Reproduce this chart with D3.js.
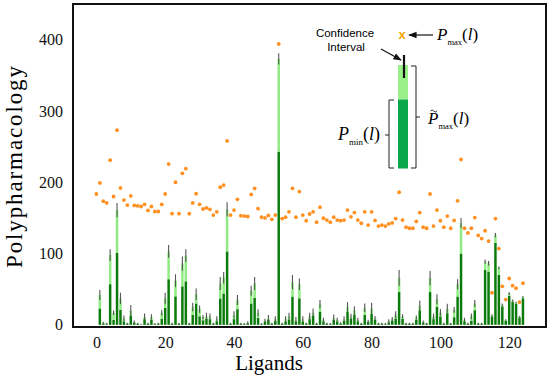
<!DOCTYPE html>
<html>
<head>
<meta charset="utf-8">
<script src="https://cdnjs.cloudflare.com/ajax/libs/d3/7.8.5/d3.min.js"></script>
<style>
  body { margin: 0; background: #fff; }
  .tick text { font-family: "Liberation Serif", serif; font-size: 16px; fill: #111; }
</style>
</head>
<body>
<script>
// values per ligand
var pMin = [0, 23, 2, 1, 57, 7, 101, 21, 5, 1.5, 12.6, 3, 1.5, 0.5, 8, 1.5, 7, 1, 1.5, 8.5,
  24, 64, 1.5, 40, 1.5, 54, 61, 1.5, 14, 30, 12, 6.5, 8.5, 8, 1.5, 4.7, 37, 44, 103, 1.5,
  8, 22, 1.5, 1, 2.3, 30, 38, 10, 1, 4.7, 7, 1.5, 5.6, 243, 1.5, 4.7, 7.5, 39.7, 4.7, 37.3,
  4.7, 1.5, 8, 13, 1.5, 18.7, 4.7, 1.5, 1, 7, 4.7, 2, 5.6, 18, 8.5, 14, 4.7, 1.5, 14, 4,
  15.4, 7, 1.5, 1.5, 1, 3.3, 6, 9, 46, 8.5, 1.5, 1.5, 1.5, 7, 20.5, 3.3, 1.5, 46, 8, 25.7,
  12, 1.5, 16.3, 1.5, 10.7, 39.7, 100, 4.7, 1.5, 6, 20.5, 1.5, 1.5, 77, 74.7, 11.7, 115, 70, 26, 6,
  41, 32, 29.5, 10.5, 37.3];
var pTilde = [0, 42, 3, 2, 98, 17, 161, 37, 9, 2, 20, 4, 2, 1, 11, 2, 11, 1.5, 2, 17,
  37, 103, 2, 62, 2, 86, 97, 2, 25, 43, 22, 11, 12, 12, 2, 8, 58, 66, 162, 2,
  14, 35, 2, 1.5, 3, 48, 58, 17, 1.5, 6, 9, 2, 8, 373, 2, 8, 12, 60, 7, 57,
  8, 2, 12, 17, 2, 29, 7, 2, 1.5, 9.5, 7, 2.5, 8, 25, 11.7, 20, 7, 2, 24, 5,
  23, 9.5, 2, 2, 1.5, 5, 8, 14, 66, 12, 2, 2, 2, 10, 27, 4, 2, 65.4, 11.7, 36,
  17.3, 2, 22.5, 2, 21, 57, 143, 7, 2, 12, 30, 2, 2, 88.7, 86.4, 13, 126, 80, 28, 7,
  44, 34, 31, 11.5, 39];
var ciHalf = [0, 7, 1.5, 1, 8, 3, 10, 8, 4, 1, 8, 2, 1, 0.5, 5, 1, 4, 1, 1, 4,
  8, 9, 1, 9, 1, 10, 9, 1, 6, 8, 5, 3, 5, 4, 1, 4, 9, 8, 10, 1,
  5, 7, 1, 1, 2, 7, 9, 5, 1, 2.5, 5, 1, 4, 8, 1, 4, 5, 10, 4, 8,
  4, 1, 5, 6, 1, 6, 3, 1, 1, 5, 3, 1, 4, 7, 4, 6, 3, 1, 6, 2,
  8, 3, 1, 1, 1, 3, 3, 5, 11, 3, 1, 1, 1, 3, 7, 2, 1, 10, 4, 7,
  5, 1, 7, 1, 4, 7, 7, 3, 1, 4, 5, 1, 1, 3, 3, 2, 3, 2, 2, 1,
  2, 1.5, 1.5, 1, 1.5];
var pMax = [183.5, 199, 173.5, 171, 231, 180, 273, 192, 175, 168, 181, 167.5, 167, 166, 169, 160.5, 166, 159, 159, 169,
  183.5, 225.5, 156, 200, 156, 212.5, 219, 156, 171, 184, 169, 162.5, 164, 162, 154, 158.5, 193, 196, 258, 154,
  161, 176, 153, 152.5, 152, 183, 191.5, 163, 151, 150, 153.5, 148, 154, 394, 149, 151, 158.5, 191.5, 151, 187,
  154, 146, 155.5, 158.5, 144, 165, 149.5, 147, 144, 151, 147, 146, 147, 161, 151.5, 157.5, 147, 142.5, 158.5, 140,
  158.5, 146.5, 138.5, 140, 138.5, 141.5, 143, 149, 186, 147, 137, 135.5, 135.5, 145, 157.5, 137, 135.5, 183.5, 138.5, 161,
  146, 137, 152.5, 135.5, 146.5, 174, 232, 135.5, 129, 135.5, 150.5, 125.5, 121, 132, 117.5, 45, 149, 107, 54, 35.5,
  65, 55, 51.5, 32, 58.5];
var xTicks = [0, 20, 40, 60, 80, 100, 120];
var yTicks = [0, 100, 200, 300, 400];

function PolyChart() {

  var margin = {top: 4, right: 4, bottom: 55, left: 73},
      width = 550 - margin.left - margin.right,
      height = 382 - margin.top - margin.bottom;

  var ligands = d3.range(pMin.length);

  var x = d3.scaleLinear().domain([-6.8, 130.7]).range([0, width]);
  var y = d3.scaleLinear().domain([-3, 450]).range([height, 0]);
  var bw = x(0.72) - x(0);

  var root = d3.select("body").append("svg")
      .attr("width", 550)
      .attr("height", 382);

  var svg = root.append("g")
      .attr("transform", "translate(" + margin.left + "," + margin.top + ")");

  // dark part = P_min
  svg.selectAll(".pmin").data(ligands).enter().append("rect")
      .attr("class", "pmin")
      .attr("x", function(d) { return x(d) - bw / 2; })
      .attr("width", bw)
      .attr("y", function(d) { return y(pMin[d]); })
      .attr("height", function(d) { return y(0) - y(pMin[d]); })
      .attr("fill", "#0a7a0a");

  // light part up to P~max
  svg.selectAll(".ptil").data(ligands).enter().append("rect")
      .attr("class", "ptil")
      .attr("x", function(d) { return x(d) - bw / 2; })
      .attr("width", bw)
      .attr("y", function(d) { return y(pTilde[d]); })
      .attr("height", function(d) { return Math.max(0, y(pMin[d]) - y(pTilde[d])); })
      .attr("fill", "#8fec82");

  // confidence interval
  svg.selectAll(".ci").data(ligands.filter(function(d) { return pTilde[d] > 0; }))
    .enter().append("line")
      .attr("class", "ci")
      .attr("x1", function(d) { return x(d); })
      .attr("x2", function(d) { return x(d); })
      .attr("y1", function(d) { return y(pTilde[d] - ciHalf[d]); })
      .attr("y2", function(d) { return y(pTilde[d] + ciHalf[d]); })
      .attr("stroke", "#555")
      .attr("stroke-width", 1.1);

  // P_max dots
  svg.selectAll(".pmax").data(ligands).enter().append("circle")
      .attr("class", "pmax")
      .attr("cx", function(d) { return x(d); })
      .attr("cy", function(d) { return y(pMax[d]); })
      .attr("r", 1.9)
      .attr("fill", "#ff9020");

  // axes
  var xa = svg.append("g")
      .attr("transform", "translate(0," + height + ")")
      .call(d3.axisBottom(x).tickValues(xTicks).tickSize(0).tickPadding(10));
  xa.select(".domain").remove();

  var ya = svg.append("g")
      .call(d3.axisLeft(y).tickValues(yTicks).tickSize(0).tickPadding(10));
  ya.select(".domain").remove();

  // frame
  svg.append("rect")
      .attr("width", width)
      .attr("height", height)
      .attr("fill", "none")
      .attr("stroke", "#111")
      .attr("stroke-width", 2);

  // axis titles
  root.append("text")
      .attr("x", 269).attr("y", 370)
      .attr("text-anchor", "middle")
      .attr("font-family", "Liberation Serif, serif")
      .attr("font-size", 21)
      .text("Ligands");

  root.append("text")
      .attr("transform", "translate(22,167) rotate(-90)")
      .attr("text-anchor", "middle")
      .attr("font-family", "Liberation Serif, serif")
      .attr("font-size", 23)
      .attr("textLength", 202)
      .attr("lengthAdjust", "spacing")
      .text("Polypharmacology");

  // inset explanation
  var leg = root.append("g");
  var serif = "Liberation Serif, serif";

  leg.append("text").attr("x", 345).attr("y", 37).attr("text-anchor", "middle")
      .attr("font-family", "Liberation Sans, Arial, sans-serif").attr("font-size", 11.5)
      .text("Confidence");
  leg.append("text").attr("x", 346).attr("y", 51).attr("text-anchor", "middle")
      .attr("font-family", "Liberation Sans, Arial, sans-serif").attr("font-size", 11.5)
      .text("Interval");

  root.append("defs").append("marker")
      .attr("id", "ah").attr("viewBox", "0 0 10 10")
      .attr("refX", 9).attr("refY", 5)
      .attr("markerWidth", 7).attr("markerHeight", 7)
      .attr("orient", "auto")
    .append("path").attr("d", "M0,1 L10,5 L0,9 z").attr("fill", "#111");

  leg.append("line").attr("x1", 381).attr("y1", 49).attr("x2", 401).attr("y2", 60)
      .attr("stroke", "#111").attr("stroke-width", 1.2).attr("marker-end", "url(#ah)");
  leg.append("line").attr("x1", 433).attr("y1", 35).attr("x2", 409).attr("y2", 35)
      .attr("stroke", "#111").attr("stroke-width", 1.2).attr("marker-end", "url(#ah)");

  leg.append("text").attr("x", 402).attr("y", 39).attr("text-anchor", "middle")
      .attr("font-family", "Liberation Sans, Arial, sans-serif").attr("font-weight", "bold")
      .attr("font-size", 13).attr("fill", "#f5a400").text("x");

  leg.append("rect").attr("x", 398).attr("y", 65).attr("width", 10).attr("height", 34.5)
      .attr("fill", "#9cf08a");
  leg.append("rect").attr("x", 398).attr("y", 99.5).attr("width", 10).attr("height", 69)
      .attr("fill", "#0aa84a");
  leg.append("line").attr("x1", 404).attr("x2", 404).attr("y1", 55).attr("y2", 78)
      .attr("stroke", "#111").attr("stroke-width", 2.2);

  // brackets
  leg.append("path").attr("d", "M411,66 L416,66 L416,168 L411,168 M416,117 L420,117")
      .attr("fill", "none").attr("stroke", "#222").attr("stroke-width", 1);
  leg.append("path").attr("d", "M394,100 L389,100 L389,168 L394,168 M389,135 L385,135")
      .attr("fill", "none").attr("stroke", "#222").attr("stroke-width", 1);

  function pLabel(px, py, sub, size) {
    var t = leg.append("text").attr("x", px).attr("y", py)
        .attr("font-family", serif).attr("font-size", size);
    t.append("tspan").attr("font-style", "italic").text("P");
    t.append("tspan").attr("font-size", size * 0.5).attr("dy", size * 0.3).text(sub);
    t.append("tspan").attr("dy", -size * 0.3).text("(");
    t.append("tspan").attr("font-style", "italic").text("l");
    t.append("tspan").text(")");
    return t;
  }
  pLabel(437, 40, "max", 17);
  pLabel(428, 124, "max", 17);
  // tilde over P
  leg.append("path").attr("d", "M430.5,111 q1.6,-2 3.2,0 t3.2,0")
      .attr("fill", "none").attr("stroke", "#222").attr("stroke-width", 0.9);
  pLabel(338, 140, "min", 18);
}

PolyChart();
</script>
</body>
</html>
